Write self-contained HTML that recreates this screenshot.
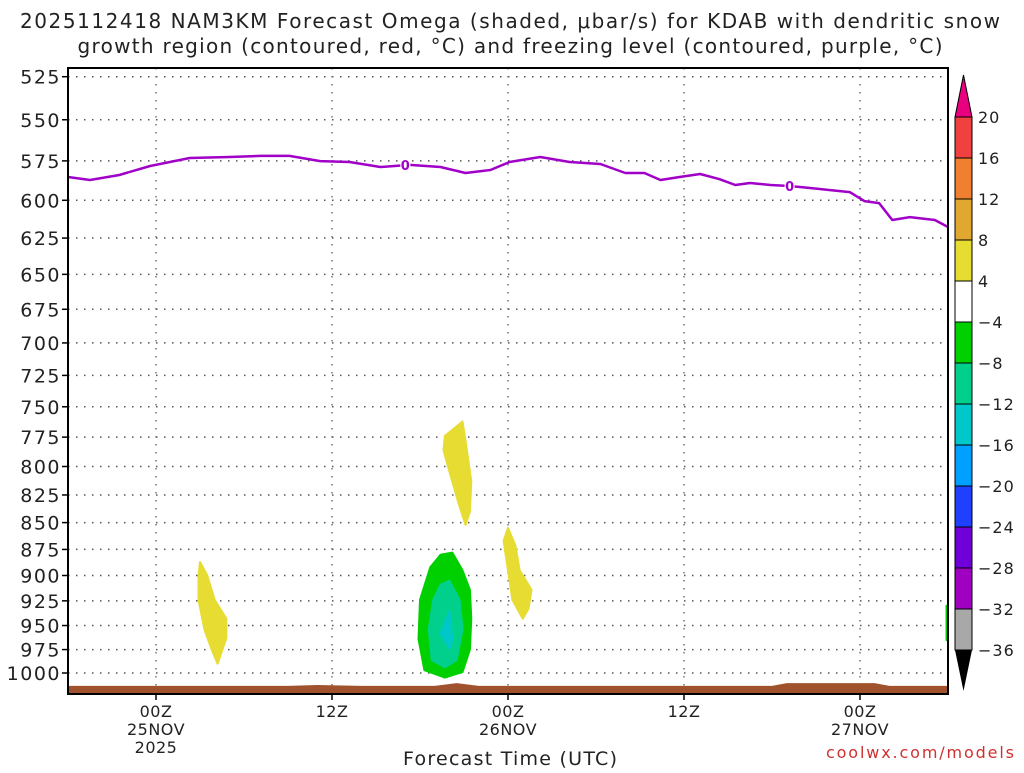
<!DOCTYPE html>
<html><head><meta charset="utf-8"><style>
body{margin:0;background:#fff;width:1024px;height:768px;overflow:hidden}
svg text{font-family:"DejaVu Sans","Liberation Sans",sans-serif;fill:#222}
</style></head><body>
<svg id="chart" width="1024" height="768" xmlns="http://www.w3.org/2000/svg">
<text x="510" y="28" font-size="20" text-anchor="middle" textLength="980" lengthAdjust="spacing">2025112418 NAM3KM Forecast Omega (shaded, μbar/s) for KDAB with dendritic snow</text>
<text x="510" y="53" font-size="20" text-anchor="middle" textLength="865" lengthAdjust="spacing">growth region (contoured, red, °C) and freezing level (contoured, purple, °C)</text>
<g id="grid"></g>
<g id="shades"></g>
<g id="ground"></g>
<g id="frz"></g>
<rect x="68" y="68" width="880" height="626" fill="none" stroke="#000" stroke-width="2"/>
<g id="yaxis"></g>
<g id="xaxis"></g>
<text x="510" y="765" font-size="19" text-anchor="middle" textLength="214" lengthAdjust="spacing">Forecast Time (UTC)</text>
<text x="1014" y="758" font-size="16" text-anchor="end" textLength="188" lengthAdjust="spacing" style="fill:#d03030">coolwx.com/models</text>
<g id="cbar"></g>
</svg>
<script>
const pTicks=[525,550,575,600,625,650,675,700,725,750,775,800,825,850,875,900,925,950,975,1000];
const xTickHours=[6,18,30,42,54];
const xTickLabels=[["00Z","25NOV","2025"],["12Z"],["00Z","26NOV"],["12Z"],["00Z","27NOV"]];
const frzHours=[0,1.5,3.5,5.6,8.3,11.0,13.1,15.1,17.2,19.2,21.3,23.3,25.4,27.1,28.8,30.1,32.2,34.2,36.3,38.0,39.3,40.4,41.7,43.1,44.4,45.5,46.5,47.9,49.2,50.6,51.9,53.3,54.3,55.3,56.2,57.4,59.1,60];
const frzPres=[585.1,587.0,583.8,578.2,573.2,572.6,571.9,571.9,575.1,575.7,578.8,577.5,578.8,582.6,580.7,575.7,572.6,575.7,576.9,582.6,582.6,587.0,585.1,583.2,586.4,590.2,588.9,590.2,590.8,592.1,593.4,594.7,600.5,601.8,612.9,611.0,612.9,617.6];
const frzLabelHours=[23.0,49.2];
const sfcHours=[0,15,17,20,25,26.5,28,30,48,49,55,56,60];
const sfcPres=[1014,1014,1013,1014,1014,1011,1014,1014,1014,1011,1011,1014,1014];
const cbLevels=["20","16","12","8","4","−4","−8","−12","−16","−20","−24","−28","−32","−36"];
const cbColors=["#f04040","#f08030","#e0a830","#e6dc32","#ffffff","#00d000","#00d08c","#00c8c8","#00a0ff","#2040ff","#7000d8","#a000c0","#a8a8a8"];
const blobs=[
 {c:"#e6dc32",pts:[[9.0,887],[9.5,900],[10.0,924],[10.8,943],[10.8,963],[10.2,990],[9.8,975],[9.3,954],[8.9,924],[8.9,900]]},
 {c:"#e6dc32",pts:[[26.9,762],[27.1,778],[27.5,813],[27.4,840],[27.1,852],[26.6,831],[26.0,804],[25.6,786],[25.7,774]]},
 {c:"#e6dc32",pts:[[30.0,855],[30.5,871],[30.8,895],[31.6,914],[31.4,933],[31.0,943],[30.3,924],[30.0,895],[29.7,867]]},
 {c:"#00d000",pts:[[26.2,878],[26.9,895],[27.4,914],[27.5,943],[27.4,975],[26.9,999],[25.7,1005],[24.3,997],[23.9,964],[24.0,924],[24.7,892],[25.4,880]]},
 {c:"#00d08c",pts:[[26.0,905],[26.7,924],[26.9,954],[26.5,986],[25.7,994],[24.8,986],[24.6,954],[24.9,924],[25.4,909]]},
 {c:"#00c8c8",pts:[[26.0,936],[26.2,965],[26.0,974],[25.4,958]]},
 {c:"#00d000",pts:[[59.9,930],[60,930],[60,965],[59.9,965]]}
];
const X=t=>68+t*880/60;
const Y=p=>673-925.4*Math.log(1000/p);
const NS="http://www.w3.org/2000/svg";
function mk(tag,parent,attrs,text){const e=document.createElementNS(NS,tag);for(const k in attrs)e.setAttribute(k,attrs[k]);if(text!==undefined)e.textContent=text;document.getElementById(parent).appendChild(e);return e;}
pTicks.forEach(p=>{
 const y=Y(p);
 const g=mk("line","grid",{x1:68,x2:948,y1:y,y2:y,stroke:"#555","stroke-dasharray":"1.5 6.5","stroke-width":1.5});
 
 
 const tk=mk("line","yaxis",{x1:62,x2:68,y1:y,y2:y,stroke:"#000","stroke-width":1.5});
 
 
 const t=mk("text","yaxis",{x:61,y:y+7,"font-size":19,"text-anchor":"end","letter-spacing":"1.5"},p);
 
 
});
xTickHours.forEach((h,i)=>{
 const x=X(h);
 const g=mk("line","grid",{x1:x,x2:x,y1:68,y2:694,stroke:"#777","stroke-dasharray":"1.5 6.5","stroke-width":1.5});
 
 
 const tk=mk("line","xaxis",{x1:x,x2:x,y1:694,y2:700,stroke:"#000","stroke-width":1.5});
 
 
 xTickLabels[i].forEach((s,j)=>{
  const t=mk("text","xaxis",{x:x,y:717+j*18,"font-size":16,"text-anchor":"middle","letter-spacing":"0.5"},s);
  
  
 });
});
blobs.forEach(b=>{
 const d=b.pts.map((q,i)=>(i?"L":"M")+X(q[0]).toFixed(1)+","+Y(q[1]).toFixed(1)).join("")+"Z";
 const e=mk("path","shades",{d:d,fill:b.c,stroke:b.c,"stroke-width":2,"stroke-linejoin":"round"});
 
 
});
let gd="M68,694";
sfcHours.forEach((h,i)=>{gd+="L"+X(h).toFixed(1)+","+Y(sfcPres[i]).toFixed(1);});
gd+="L948,694Z";
const ge=mk("path","ground",{d:gd,fill:"#a0522d"});


const fd=frzHours.map((h,i)=>(i?"L":"M")+X(h).toFixed(1)+","+Y(frzPres[i]).toFixed(1)).join("");
const fe=mk("path","frz",{d:fd,fill:"none",stroke:"#a000c8","stroke-width":2.5,"stroke-linejoin":"round"});


function interp(h){for(let i=1;i<frzHours.length;i++){if(h<=frzHours[i]){const f=(h-frzHours[i-1])/(frzHours[i]-frzHours[i-1]);return frzPres[i-1]+f*(frzPres[i]-frzPres[i-1]);}}return frzPres[frzPres.length-1];}
frzLabelHours.forEach(h=>{
 const x=X(h),y=Y(interp(h));
 const bg=mk("rect","frz",{x:x-5,y:y-8,width:10,height:14,fill:"#fff"});
 
 
 const t=mk("text","frz",{x:x,y:y+5,"font-size":13,"font-weight":"bold","text-anchor":"middle",style:"fill:#a000c8"},"0");
 
 
});
const cbX=955,cbW=17,cbTop=117,bh=41;
const tri=mk("path","cbar",{d:`M${cbX},${cbTop}L${cbX+cbW/2},75L${cbX+cbW},${cbTop}Z`,fill:"#e8007e",stroke:"#000","stroke-width":1});


cbColors.forEach((c,i)=>{
 const r=mk("rect","cbar",{x:cbX,y:cbTop+i*bh,width:cbW,height:bh,fill:c,stroke:"#000","stroke-width":1});
 
 
});
const bot=cbTop+cbColors.length*bh;
const tri2=mk("path","cbar",{d:`M${cbX},${bot}L${cbX+cbW/2},691L${cbX+cbW},${bot}Z`,fill:"#000"});


cbLevels.forEach((s,i)=>{
 const t=mk("text","cbar",{x:978,y:cbTop+i*bh+6,"font-size":16,"letter-spacing":"1"},s);
 
 
});
</script>
</body></html>
